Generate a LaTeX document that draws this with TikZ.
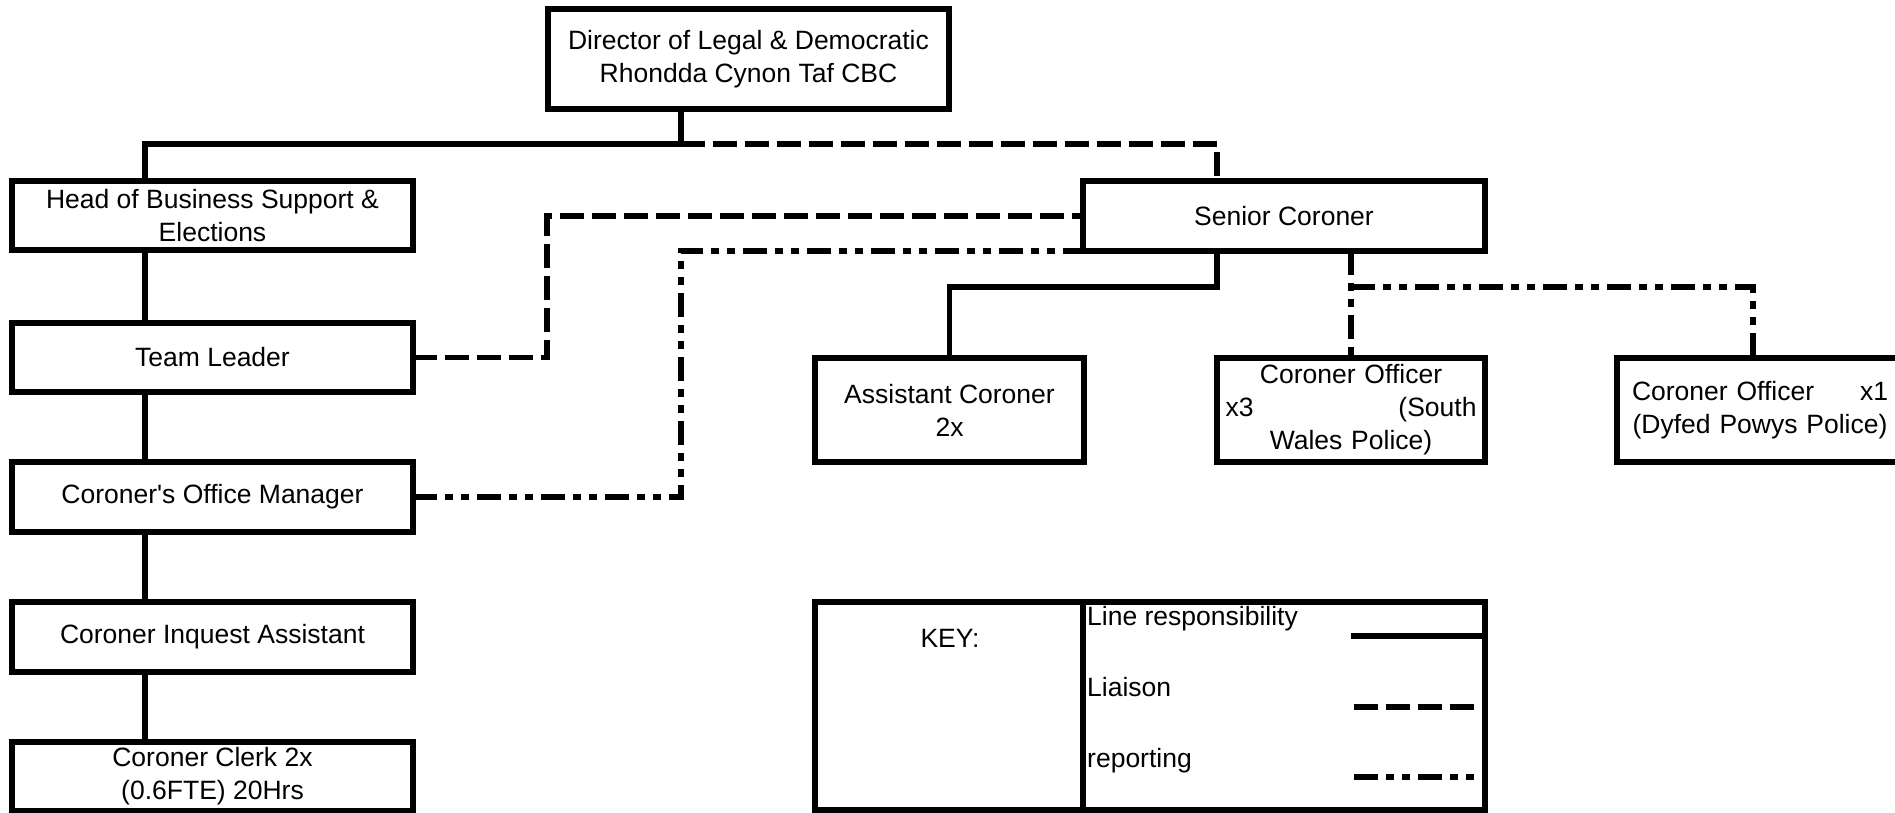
\documentclass[tikz,border=0pt]{standalone}
\usepackage{fontspec}
\setmainfont{Liberation Sans}
\begin{document}
\begin{tikzpicture}[x=1pt,y=-1pt,
  lw/.style={line width=5.5pt},
  box/.style={draw, lw, rectangle, inner sep=2pt, outer sep=0pt, align=center,
    font=\fontsize{26.5pt}{33pt}\selectfont, anchor=center},
  txt/.style={inner sep=0pt, font=\fontsize{26.5pt}{33pt}\selectfont},
  lineresp/.style={lw},
  liaison/.style={lw, dash pattern=on 24pt off 8pt},
  reporting/.style={lw, dash pattern=on 24pt off 8pt on 8pt off 8pt on 8pt off 8pt}
]
\useasboundingbox (0,0) rectangle (1895,812);
\clip (0,0) rectangle (1895,812);

% boxes
\node[box, minimum width=401pt, minimum height=100pt] (dir) at (748.5,59)
  {Director of Legal \& Democratic\\Rhondda Cynon Taf CBC};
\node[box, minimum width=401pt, minimum height=69pt] (head) at (212.5,215.5)
  {Head of Business Support \&\\Elections};
\node[box, minimum width=401pt, minimum height=69pt] (team) at (212.5,357.5)
  {Team Leader};
\node[box, minimum width=401pt, minimum height=70pt] (mgr) at (212.5,497)
  {Coroner\textquotesingle s Office Manager};
\node[box, minimum width=401pt, minimum height=70pt] (inq) at (212.5,637)
  {Coroner Inquest Assistant};
\node[box, minimum width=401pt, minimum height=69pt] (clerk) at (212.5,776.5)
  {Coroner Clerk 2x\\(0.6FTE) 20Hrs};
\node[box, minimum width=402pt, minimum height=70pt] (senior) at (1284,216)
  {Senior Coroner};
\node[box, minimum width=269pt, minimum height=104pt] (asst) at (949.5,410)
  {Assistant Coroner\\2x};
\node[box, minimum width=268pt, minimum height=104pt, text width=251pt] (swp) at (1351,410)
  {Coroner Officer\\x3\hfill(South\\Wales Police)};
\node[box, minimum width=286pt, minimum height=104pt, text width=256pt] (xone) at (1760,410)
  {Coroner Officer\hfill x1\\(Dyfed Powys Police)};
\node[box, minimum width=670pt, minimum height=208pt] (key) at (1150,706) {};

% helper coordinates
\coordinate (jd) at (681,144);
\coordinate (cl) at (145,0);
\coordinate (sx) at (1217,0);
\coordinate (lx) at (547,0);
\coordinate (hy) at (0,287);
\coordinate (ox) at (1753,0);
\coordinate (kd) at (1083,0);

% line responsibility
\draw[lineresp] (dir.south -| jd) -- (jd) -| (head.north -| cl);
\draw[lineresp] (head.south -| cl) -- (team.north -| cl);
\draw[lineresp] (team.south -| cl) -- (mgr.north -| cl);
\draw[lineresp] (mgr.south -| cl) -- (inq.north -| cl);
\draw[lineresp] (inq.south -| cl) -- (clerk.north -| cl);
\draw[lineresp] (senior.south -| sx) -- (sx |- hy) -| (asst.north);

% liaison
\draw[liaison] (jd) -| (senior.north -| sx);
\draw[liaison] (team.east) -| (lx |- senior.west) -- (senior.west);

% reporting
\draw[reporting] (mgr.east) -| (jd |- senior.south west) -- (senior.south west);
\draw[reporting] (senior.south -| swp.north) -- (swp.north);
\draw[reporting] (swp.north |- hy) -| (xone.north -| ox);

% key
\draw[lineresp] (kd |- key.north) -- (kd |- key.south);
\node[txt, anchor=base] (keyt) at (950,647) {KEY:};
\node[txt, anchor=base west] (k1) at (1087,625) {Line responsibility};
\node[txt, anchor=base west] (k2) at (1087,696) {Liaison};
\node[txt, anchor=base west] (k3) at (1087,767) {reporting};
\coordinate (ks1) at (1351,636);
\coordinate (ks2a) at (1354,707);
\coordinate (ks2b) at (1474,707);
\coordinate (ks3a) at (1354,777);
\coordinate (ks3b) at (1474,777);
\draw[lineresp] (ks1) -- (ks1 -| key.east);
\draw[liaison] (ks2a) -- (ks2b);
\draw[reporting] (ks3a) -- (ks3b);
\end{tikzpicture}
\end{document}
